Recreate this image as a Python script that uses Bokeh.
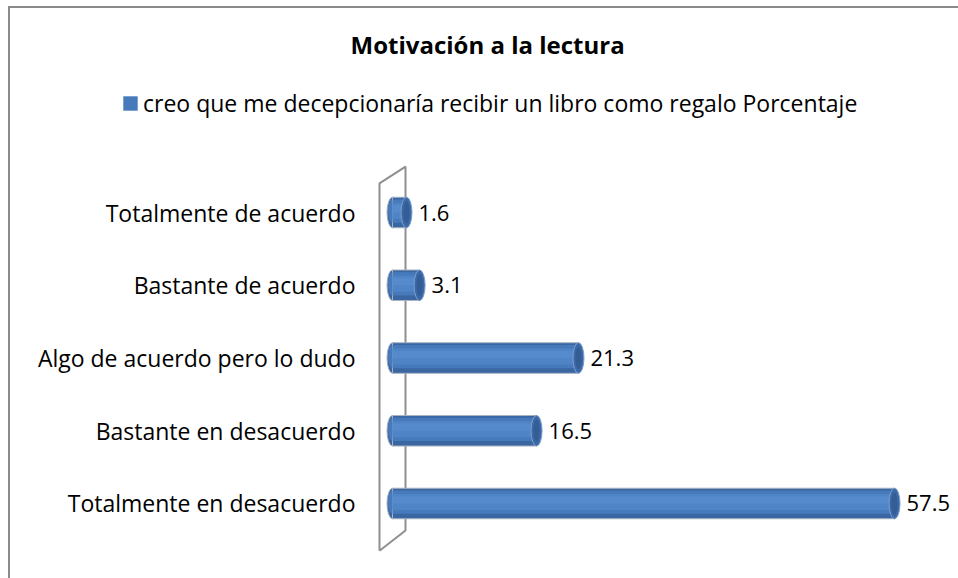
from bokeh.plotting import figure
from bokeh.models import Range1d, FixedTicker, Legend, LegendItem, ColumnDataSource
from bokeh.core.properties import value
from bokeh.embed import file_html
from bokeh.resources import INLINE

# ---- data ----
categories = ["Totalmente en desacuerdo", "Bastante en desacuerdo",
              "Algo de acuerdo pero lo dudo", "Bastante de acuerdo",
              "Totalmente de acuerdo"]
percent = [57.5, 16.5, 21.3, 3.1, 1.6]
value_labels = ["57.5", "16.5", "21.3", "3.1", "1.6"]
series_name = "creo que me decepcionaría recibir un libro como regalo Porcentaje"
chart_title = "Motivación a la lectura"

FONT = "Open Sans"
n = len(categories)
idx = list(range(n))

src = ColumnDataSource(dict(
    y=idx,
    y_mid=[i + 0.02 for i in idx],
    y_hi=[i + 0.05 for i in idx],
    v=percent,
    zero=[0] * n,
    lab=value_labels,
))

W, H = 958, 578
p = figure(width=W, height=H, output_backend="svg", toolbar_location=None,
           x_range=Range1d(-44.9, 64.83), y_range=Range1d(-1.031, 6.076),
           x_axis_location=None,
           min_border_left=0, min_border_right=0,
           min_border_top=61, min_border_bottom=0,
           background_fill_color=None, border_fill_color=None)
p.outline_line_color = None
p.xgrid.visible = False
p.ygrid.visible = False
# chart-area border (left and top edges, as in the cropped reference)
p.styles = {
    "background-color": "white",
    "background-image": "linear-gradient(#8a8a8a, #8a8a8a), linear-gradient(#8a8a8a, #8a8a8a)",
    "background-size": "2px 100%, 100% 2px",
    "background-position": "8px 6px, 8px 6px",
    "background-repeat": "no-repeat",
}

d = 1.49  # half depth of the 3D wall, data units

# y axis with category names, placed at the front of the wall
ax = p.yaxis[0]
ax.fixed_location = -d
ax.ticker = FixedTicker(ticks=idx)
ax.major_label_overrides = {i: c for i, c in zip(idx, categories)}
ax.axis_line_color = None
ax.major_tick_line_color = None
ax.minor_tick_line_color = None
ax.major_tick_in = 0
ax.major_tick_out = 0
ax.major_label_standoff = 24
ax.major_label_text_font = FONT
ax.major_label_text_font_size = "23px"
ax.major_label_text_color = "#000000"

# 3D wall (decoration)
wall_x = [-d, -d, d, d, -d]
wall_y = [-0.65, n - 0.6, n - 0.37, -0.37, -0.65]
p.line(wall_x, wall_y, line_color="#8f8f8f", line_width=2)

# left rounded ends
p.ellipse(x="zero", y="y", width=11, width_units="screen", height=0.42,
          source=src, fill_color="#3a66a2", line_color="#a9b3c2", line_width=1)
p.ellipse(x="zero", y="y_mid", width=9, width_units="screen", height=0.32,
          source=src, fill_color="#477abb", line_color=None)

# cylinder body
p.hbar(y="y", left="zero", right="v", height=0.42, source=src,
       fill_color="#3a66a2", line_color="#a9b3c2", line_width=1)
mid = p.hbar(y="y_mid", left="zero", right="v", height=0.32, source=src,
             fill_color="#477abb", line_color=None)
p.hbar(y="y_mid", left="zero", right="v", height=0.22, source=src,
       fill_color="#4f84c6", line_color=None)
p.hbar(y="y_hi", left="zero", right="v", height=0.10, source=src,
       fill_color="#5a8fd2", line_color=None, fill_alpha=0.6)

# right end cap
p.ellipse(x="v", y="y", width=11, width_units="screen", height=0.42,
          source=src, fill_color="#3b68a6", line_color="#7d9fcc", line_width=1)
p.ellipse(x="v", y="y", width=6, width_units="screen", height=0.30,
          source=src, fill_color="#345d96", line_color=None)

# value labels
p.text(x="v", y="y", text="lab", source=src, x_offset=12,
       text_baseline="middle", text_align="left",
       text_font=value(FONT), text_font_size="22px", text_color="#000000")

# title
p.title.text = chart_title
p.title.text_font = FONT
p.title.text_font_size = "24px"
p.title.text_font_style = "bold"
p.title.align = "left"
p.title.offset = 350
p.title.standoff = 1
p.title.text_color = "#000000"

# legend (position relative to the frame's bottom-left corner)
legend = Legend(items=[LegendItem(label=series_name, renderers=[mid])],
                orientation="horizontal", location=(121, 459),
                border_line_color=None, background_fill_alpha=0,
                glyph_width=18, glyph_height=18, label_standoff=4,
                label_height=28, padding=0, margin=0,
                label_text_font=FONT, label_text_font_size="23px",
                label_text_color="#000000")
p.add_layout(legend, "center")

open("out.html", "w").write(file_html(p, INLINE))
